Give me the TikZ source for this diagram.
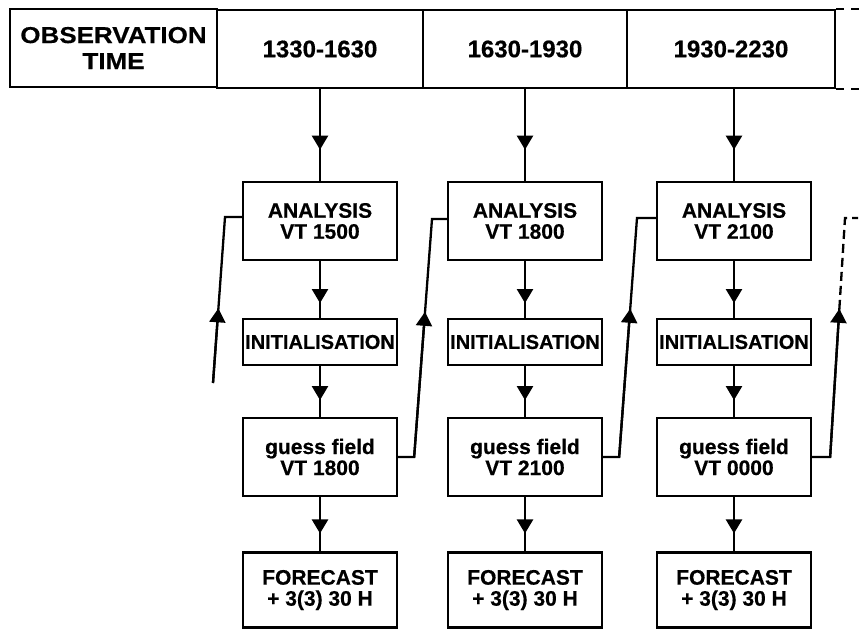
\documentclass[tikz,border=0pt]{standalone}
\usepackage{fontspec}
\setmainfont{Liberation Sans}[BoldFeatures={FakeBold=0.5}]
\usetikzlibrary{arrows.meta,calc,decorations.markings}
\begin{document}
\begin{tikzpicture}[x=1pt,y=-1pt,line width=2.3pt,
  box/.style={draw,rectangle,inner sep=0pt,minimum width=154pt,align=center,
    font=\fontsize{21}{21}\selectfont\bfseries},
  cell/.style={draw,rectangle,inner sep=0pt,minimum height=78pt,align=center,
    font=\fontsize{24}{25}\selectfont\bfseries},
  tip/.style={-{Triangle[length=14pt,width=16pt]}},
  flow/.style={postaction={decorate},decoration={markings,
    mark=at position #1 with {\arrow{Triangle[length=14pt,width=16pt]}}}},
  dashline/.style={dash pattern=on 9pt off 5pt}]
\useasboundingbox (0,0) rectangle (860,630);

% observation time header
\node[cell,minimum width=207pt,
  font=\fontsize{23}{26}\selectfont\bfseries\addfontfeatures{FakeStretch=1.13}]
  (hdr0) at (113.5,48) {OBSERVATION\\TIME};
\node[cell,minimum width=206pt] (hdr1) at (320,49) {1330-1630};
\node[cell,minimum width=204pt] (hdr2) at (525,49) {1630-1930};
\node[cell,minimum width=208pt] (hdr3) at (731,49) {1930-2230};
\draw (hdr3.north east) -- ++(8,0);
\draw (hdr3.south east) -- ++(8,0);
\draw ($(hdr3.north east)+(15,0)$) -- ++(8,0);
\draw ($(hdr3.south east)+(15,0)$) -- ++(8,0);

% three assimilation cycles
\foreach \c/\x/\va/\vg in {1/320/1500/1800, 2/525/1800/2100, 3/734/2100/0000}{
  \node[box,minimum height=78pt] (a\c) at (\x,221) {ANALYSIS\\VT \va};
  \node[box,minimum height=46pt,font=\fontsize{20}{21}\selectfont\bfseries]
    (i\c) at (\x,342) {INITIALISATION};
  \node[box,minimum height=78pt] (g\c) at (\x,457) {guess field\\VT \vg};
  \node[box,minimum height=75pt] (f\c) at (\x,590) {FORECAST\\+ 3(3) 30 H};
  \draw[flow=0.66] (hdr\c.south -| a\c.north) -- (a\c.north);
  \draw[flow=0.74] (a\c.south) -- (i\c.north);
  \draw[flow=0.67] (i\c.south) -- (g\c.north);
  \draw[flow=0.67] (g\c.south) -- (f\c.north);
}

% incoming guess into the first analysis
\coordinate (b0) at (213,383);
\coordinate (t0) at (225,217);
\draw (b0) -- (t0) -- (t0 -| a1.west);
\draw[tip] (b0) -- ($(b0)!0.45!(t0)$);

% guess field feeds the next analysis
\coordinate (b1) at ($(g1.east)+(16,0)$);
\coordinate (t1) at (432,219);
\draw (g1.east) -- (b1) -- (t1) -- (t1 -| a2.west);
\draw[tip] (b1) -- ($(b1)!0.61!(t1)$);

\coordinate (b2) at ($(g2.east)+(16,0)$);
\coordinate (t2) at (637,218);
\draw (g2.east) -- (b2) -- (t2) -- (t2 -| a3.west);
\draw[tip] (b2) -- ($(b2)!0.62!(t2)$);

% continuation to the following cycle
\coordinate (b3) at ($(g3.east)+(18,0)$);
\coordinate (t3) at (845,218);
\coordinate (e3) at (858,218);
\coordinate (m3) at ($(b3)!0.62!(t3)$);
\draw (g3.east) -- (b3) -- (m3);
\draw[tip] (b3) -- (m3);
\draw[dashline] (m3) -- (t3) -- (e3);
\end{tikzpicture}
\end{document}
